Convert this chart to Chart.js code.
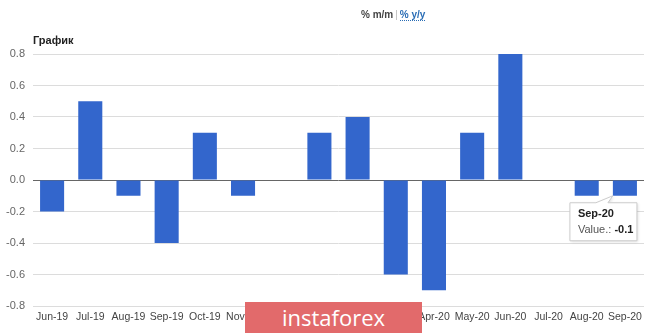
<!DOCTYPE html>
<html>
<head>
<meta charset="utf-8">
<script src="https://cdn.jsdelivr.net/npm/chart.js@4.4.3/dist/chart.umd.min.js"></script>
<style>
  html, body { margin: 0; padding: 0; background: #fff; }
  body { width: 665px; height: 333px; position: relative; overflow: hidden; font-family: Arial, "Liberation Sans", sans-serif; }
  #wrap { position: absolute; left: 0; top: 0; width: 665px; height: 333px; }
  .switch { position: absolute; top: 9px; left: 361px; font-size: 10px; font-weight: bold; color: #444; }
  .switch .sep { color: #bbb; font-weight: normal; margin: 0 2px; }
  .switch a { color: #2a6db5; text-decoration: none; border-bottom: 1px dotted #2a6db5; }
  .title { position: absolute; top: 34px; left: 33px; font-size: 11px; font-weight: bold; color: #222; }
  .brand { position: absolute; left: 245px; top: 302px; width: 177px; height: 31px; background: #e26a6b;
           color: #fff; font-size: 22px; line-height: 30px; text-align: center; font-family: "Open Sans", sans-serif; }
</style>
</head>
<body>
<div id="wrap"><canvas id="c"></canvas></div>
<div class="switch">% m/m<span class="sep">|</span><a>% y/y</a></div>
<div class="title">График</div>
<div class="brand">instaforex</div>
<script>
const months = ["Jun-19", "Jul-19", "Aug-19", "Sep-19", "Oct-19", "Nov-19", "Dec-19", "Jan-20",
                "Feb-20", "Mar-20", "Apr-20", "May-20", "Jun-20", "Jul-20", "Aug-20", "Sep-20"];
const values = [-0.2, 0.5, -0.1, -0.4, 0.3, -0.1, 0, 0.3, 0.4, -0.6, -0.7, 0.3, 0.8, 0, -0.1, -0.1];
const yMin = -0.8, yMax = 0.8, yStep = 0.1;
const pinned = 15; // Sep-20 callout

const BLUE = "#3366cc";

// static callout box under the pinned bar
const callout = {
  id: "callout",
  afterDraw(chart) {
    const bar = chart.getDatasetMeta(0).data[pinned];
    if (!bar) return;
    const ctx = chart.ctx;
    const bx = bar.x - 55, by = bar.y + 7;
    const w = 67, h = 38;
    const left = bar.x - bar.width / 2;
    ctx.save();
    ctx.shadowColor = "rgba(0,0,0,0.15)";
    ctx.shadowBlur = 3;
    ctx.shadowOffsetX = 1; ctx.shadowOffsetY = 1;
    ctx.fillStyle = "#fff";
    ctx.beginPath();
    ctx.moveTo(bx, by);
    ctx.lineTo(bx + 26, by);
    ctx.lineTo(left, bar.y);
    ctx.lineTo(bx + 38, by);
    ctx.lineTo(bx + w, by);
    ctx.lineTo(bx + w, by + h);
    ctx.lineTo(bx, by + h);
    ctx.closePath();
    ctx.fill();
    ctx.shadowColor = "transparent";
    ctx.strokeStyle = "#ccc";
    ctx.lineWidth = 1;
    ctx.stroke();
    ctx.textBaseline = "middle";
    ctx.fillStyle = "#222";
    ctx.font = "bold 11px Arial, 'Liberation Sans', sans-serif";
    ctx.fillText(months[pinned], bx + 8, by + 11);
    ctx.font = "11px Arial, 'Liberation Sans', sans-serif";
    ctx.fillStyle = "#555";
    const lab = "Value.: ";
    ctx.fillText(lab, bx + 8, by + 27);
    const lw = ctx.measureText(lab).width;
    ctx.fillStyle = "#222";
    ctx.font = "bold 11px Arial, 'Liberation Sans', sans-serif";
    ctx.fillText(String(values[pinned]), bx + 8 + lw, by + 27);
    ctx.restore();
  }
};

new Chart(document.getElementById("c"), {
  type: "bar",
  data: {
    labels: months,
    datasets: [{ data: values, backgroundColor: BLUE, borderWidth: 0, barPercentage: 0.9, categoryPercentage: 0.7 }]
  },
  options: {
    responsive: true,
    maintainAspectRatio: false,
    animation: false,
    layout: { padding: { top: 54, right: 21, left: 0, bottom: 0 } },
    plugins: { legend: { display: false }, tooltip: { enabled: false } },
    scales: {
      x: {
        grid: { display: false, drawTicks: false },
        border: { display: false },
        ticks: { color: "#444", font: { size: 10.5, family: "Arial, 'Liberation Sans', sans-serif" }, padding: 5, maxRotation: 0, autoSkip: false },
        afterFit(s) { s.height = 27; }
      },
      y: {
        min: yMin, max: yMax,
        ticks: {
          stepSize: yStep,
          color: "#666",
          padding: 8,
          font: { size: 11, family: "Arial, 'Liberation Sans', sans-serif" },
          callback: (v) => Math.round(v * 10) % 2 === 0 ? v.toFixed(1) : ""
        },
        border: { display: false },
        grid: {
          drawTicks: false,
          lineWidth: 1,
          color: (c) => {
            const k = Math.round(c.tick.value * 10);
            if (k === 0) return "#666";
            return k % 2 === 0 ? "#dcdcdc" : "#eeeeee";
          }
        },
        afterFit(s) { s.width = 33; }
      }
    }
  },
  plugins: [callout]
});
</script>
</body>
</html>
